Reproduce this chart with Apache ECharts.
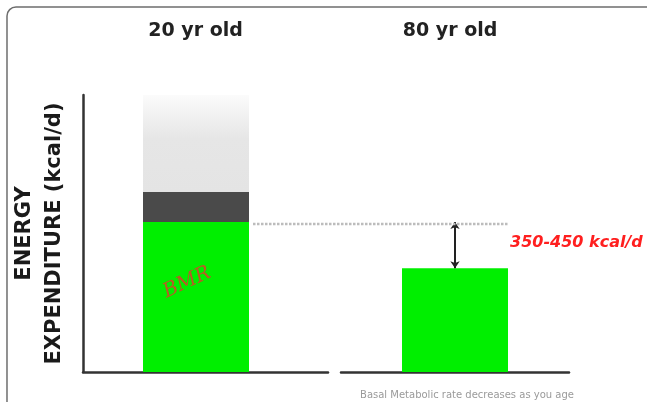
<!DOCTYPE html>
<html>
<head>
<meta charset="utf-8">
<script src="https://cdn.jsdelivr.net/npm/echarts@6/dist/echarts.min.js"></script>
<style>
  html, body { margin: 0; padding: 0; background: #fff; }
  #chart { width: 647px; height: 402px; }
</style>
</head>
<body>
<div id="chart"></div>
<script>
// Age groups compared
const ageGroups = ['20 yr old', '80 yr old'];
// Basal metabolic rate for each age group (kcal/d)
const bmr = [1300, 900];
// Extra expenditure stacked on top of BMR for the young adult (kcal/d)
const thermicEffect = [260];
const physicalActivity = [840];
// Annotation texts
const gapLabel = '350-450 kcal/d';
const bmrTag = 'BMR';
const axisTitle = ['ENERGY', 'EXPENDITURE (kcal/d)'];
const caption = 'Basal Metabolic rate decreases as you age';

const yMax = 2400;
const barW = 106;
const axisColor = '#333';

const chart = echarts.init(document.getElementById('chart'), null, { renderer: 'canvas' });

const bottomAxis = (grid, cat) => ({
  type: 'category', gridIndex: grid, data: [cat], position: 'bottom',
  axisLine: { show: true, lineStyle: { color: axisColor, width: 2.5 } },
  axisTick: { show: false }, axisLabel: { show: false }
});
// headings above each panel; right padding nudges them over the bars
const topAxis = (grid, cat, shift) => ({
  type: 'category', gridIndex: grid, data: [cat], position: 'top',
  axisLine: { show: false }, axisTick: { show: false },
  axisLabel: {
    show: true, margin: 54, padding: [0, shift, 0, 0],
    fontFamily: 'DejaVu Sans', fontWeight: 'bold', fontSize: 19, color: '#222'
  }
});

const option = {
  animation: false,
  backgroundColor: '#fff',
  title: {
    text: caption, left: 462, top: 385, textAlign: 'center',
    textStyle: { fontFamily: 'DejaVu Sans', fontSize: 10, fontWeight: 'normal', color: '#9a9a9a' }
  },
  grid: [
    { left: 83, top: 95, width: 245, height: 277 },
    { left: 341, top: 95, width: 228, height: 277 }
  ],
  xAxis: [
    bottomAxis(0, ageGroups[0]),
    topAxis(0, ageGroups[0], 20),
    bottomAxis(1, ageGroups[1]),
    topAxis(1, ageGroups[1], 10)
  ],
  yAxis: [
    {
      type: 'value', gridIndex: 0, min: 0, max: yMax,
      axisLine: { show: true, lineStyle: { color: axisColor, width: 2.5 } },
      axisTick: { show: false }, axisLabel: { show: false }, splitLine: { show: false },
      name: axisTitle.join('\n'), nameLocation: 'middle', nameGap: 13, nameRotate: 90,
      nameTextStyle: { fontFamily: 'DejaVu Sans', fontWeight: 'bold', fontSize: 21, lineHeight: 30, color: '#1a1a1a' }
    },
    {
      type: 'value', gridIndex: 1, min: 0, max: yMax,
      axisLine: { show: false }, axisTick: { show: false }, axisLabel: { show: false }, splitLine: { show: false }
    }
  ],
  series: [
    {
      name: 'BMR', type: 'bar', stack: 'young', xAxisIndex: 0, yAxisIndex: 0,
      barWidth: barW, barGap: '0%', data: [bmr[0]],
      itemStyle: { color: '#00ef00' },
      label: {
        show: true, position: 'inside', formatter: bmrTag, rotate: 25, offset: [-2, -17],
        fontFamily: 'DejaVu Serif', fontStyle: 'italic', fontSize: 20, color: '#b95a25'
      }
    },
    {
      name: 'Thermic effect', type: 'bar', stack: 'young', xAxisIndex: 0, yAxisIndex: 0,
      barWidth: barW, barGap: '0%', data: thermicEffect,
      itemStyle: { color: '#4a4a4a' }
    },
    {
      name: 'Physical activity', type: 'bar', stack: 'young', xAxisIndex: 0, yAxisIndex: 0,
      barWidth: barW, barGap: '0%', data: physicalActivity,
      itemStyle: {
        color: new echarts.graphic.LinearGradient(0, 0, 0, 1, [
          { offset: 0, color: '#fbfbfb' },
          { offset: 0.45, color: '#e6e6e6' },
          { offset: 1, color: '#e4e4e4' }
        ])
      }
    },
    {
      // empty slot beside the stacked column to set its place in the band
      name: 'spacer', type: 'bar', xAxisIndex: 0, yAxisIndex: 0,
      barWidth: 19, barGap: '0%', data: [null], silent: true,
      itemStyle: { opacity: 0 }
    },
    {
      name: 'BMR (80)', type: 'bar', xAxisIndex: 2, yAxisIndex: 1,
      barWidth: barW, data: [bmr[1]],
      itemStyle: { color: '#00ef00' },
      markLine: {
        silent: true, symbol: ['arrow', 'arrow'], symbolSize: [7, 7],
        lineStyle: { color: '#222', width: 2, type: 'solid' },
        label: { show: false },
        data: [[{ coord: [ageGroups[1], bmr[0]] }, { coord: [ageGroups[1], bmr[1]] }]]
      }
    }
  ]
};

chart.setOption(option);

// reference line and gap label placed from the bars' own layout
const model = chart.getModel();
const young = model.getSeriesByIndex(0).getData().getItemLayout(0);
const old = model.getSeriesByIndex(4).getData().getItemLayout(0);
const yRef = chart.convertToPixel({ yAxisIndex: 1 }, bmr[0]);
const yOld = chart.convertToPixel({ yAxisIndex: 1 }, bmr[1]);
const youngRight = young.x + young.width;
const oldRight = old.x + old.width;

chart.setOption({
  graphic: [
    {
      type: 'rect', silent: true, z: 100,
      shape: { x: 7, y: 7, width: 720, height: 460, r: 9 },
      style: { fill: 'none', stroke: '#6e6e6e', lineWidth: 1.5 }
    },
    {
      type: 'line', silent: true, z: 5,
      shape: { x1: youngRight + 4, y1: yRef + 2, x2: oldRight, y2: yRef + 2 },
      style: { stroke: '#bcbcbc', lineWidth: 2.5, lineDash: [2.5, 1.5] }
    },
    {
      type: 'text', silent: true, z: 10,
      x: oldRight + 2, y: (yRef + yOld) / 2 - 2,
      style: {
        text: gapLabel, fill: '#ff1f1f', fontFamily: 'DejaVu Sans', fontWeight: 'bold',
        fontStyle: 'italic', fontSize: 16, verticalAlign: 'middle', align: 'left'
      }
    }
  ]
});
</script>
</body>
</html>
